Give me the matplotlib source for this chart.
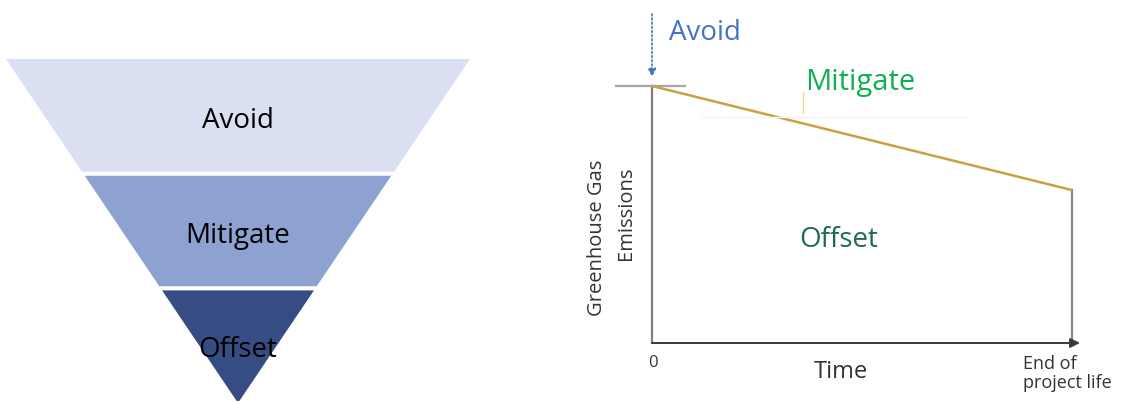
import matplotlib
matplotlib.use("Agg")
import matplotlib.pyplot as plt
from matplotlib.patches import Polygon

plt.rcParams["font.family"] = ["Open Sans", "DejaVu Sans"]

# Hierarchy stages (top to bottom) and their relative band heights
stages = ["Avoid", "Mitigate", "Offset"]
band_heights = [1, 1, 1]
band_colors = ["#dae0f1", "#8ea2d2", "#354d82"]

# Emission trajectory across the project life (time 0 -> end)
time_points = [0.0, 1.0]
emissions = [1.0, 0.595]

fig = plt.figure(figsize=(11.23, 4.03), dpi=100)

# ---------- Left: inverted funnel ----------
axf = fig.add_axes([6 / 1123, 0.0, 464 / 1123, 344 / 403])
axf.set_xlim(-1, 1)
axf.set_ylim(0, 1)
axf.axis("off")

total = sum(band_heights)
gap = 0.006
top = 1.0
for name, h, col in zip(stages, band_heights, band_colors):
    bottom = top - h / total
    b = bottom + gap if bottom > 0 else 0.0
    t = top - (gap if top < 1.0 else 0.0)
    # half-width of the funnel is proportional to the height above the apex
    poly = Polygon([(-t, t), (t, t), (b, b), (-b, b)], closed=True,
                   facecolor=col, edgecolor="none")
    axf.add_patch(poly)
    yc = (top + bottom) / 2
    # labels sit a little below the band centre, more so near the apex
    drop = 0.034 if bottom > 0 else 0.045
    axf.text(0, yc - drop, name, ha="center", va="baseline", fontsize=20,
             color="black")
    top = bottom

# ---------- Right: emissions over time ----------
ax = fig.add_axes([652 / 1123, 60 / 403, 420 / 1123, 257 / 403])
ax.set_xlim(0, 1)
ax.set_ylim(0, 1)
ax.axis("off")

# vertical axis
ax.plot([0, 0], [0, emissions[0]], color="#7f7f7f", lw=1.6, clip_on=False)
# horizontal axis with arrow
ax.annotate("", xy=(1.019, 0), xytext=(0, 0),
            arrowprops=dict(arrowstyle="-|>", color="#3a3a3a", lw=1.4,
                            mutation_scale=14, shrinkA=0, shrinkB=0),
            annotation_clip=False)
# end-of-life boundary
ax.plot([time_points[-1]] * 2, [0, emissions[-1]], color="#8a8a8a", lw=1.6,
        clip_on=False)
# reference level at start
ax.plot([-0.086, 0.079], [emissions[0], emissions[0]], color="#a6a6a6",
        lw=1.6, clip_on=False)
# emission trajectory
ax.plot(time_points, emissions, color="#c9a13e", lw=1.8, clip_on=False,
        solid_capstyle="butt")
# small marker under the Mitigate label
ax.plot([0.36, 0.36], [0.895, 0.975], color="#f0d890", lw=1.0, clip_on=False)
# faint guide line
ax.plot([0.12, 0.75], [0.88, 0.88], color="#f4f4f4", lw=1.0, clip_on=False)

# Avoid arrow
ax.annotate("", xy=(0.0, 1.035), xytext=(0.0, 1.28),
            arrowprops=dict(arrowstyle="-|>", color="#4472c4", lw=1.2,
                            linestyle=(0, (1, 1.5)), mutation_scale=12,
                            shrinkA=0, shrinkB=0),
            annotation_clip=False)

ax.text(0.040, 1.205, "Avoid", color="#4472c4", fontsize=20, ha="left",
        va="center", clip_on=False)
ax.text(0.364, 1.012, "Mitigate", color="#10b050", fontsize=21, ha="left",
        va="center", clip_on=False)
ax.text(0.445, 0.40, "Offset", color="#1e6a4f", fontsize=20, ha="center",
        va="center", clip_on=False)

ax.text(0.002, -0.078, "0", fontsize=12, ha="center", va="center",
        color="#333333", clip_on=False)
ax.text(0.45, -0.113, "Time", fontsize=17, ha="center", va="center",
        color="#333333", clip_on=False)
ax.text(0.883, -0.045, "End of\nproject life", fontsize=13, ha="left",
        va="top", color="#333333", linespacing=1.1, clip_on=False)
ax.text(-0.13, 0.41, "Greenhouse Gas", fontsize=14.5, rotation=90,
        ha="center", va="center", color="#333333", clip_on=False)
ax.text(-0.063, 0.505, "Emissions", fontsize=14.5, rotation=90,
        ha="center", va="center", color="#333333", clip_on=False)

fig.savefig("out.png", dpi=100)
